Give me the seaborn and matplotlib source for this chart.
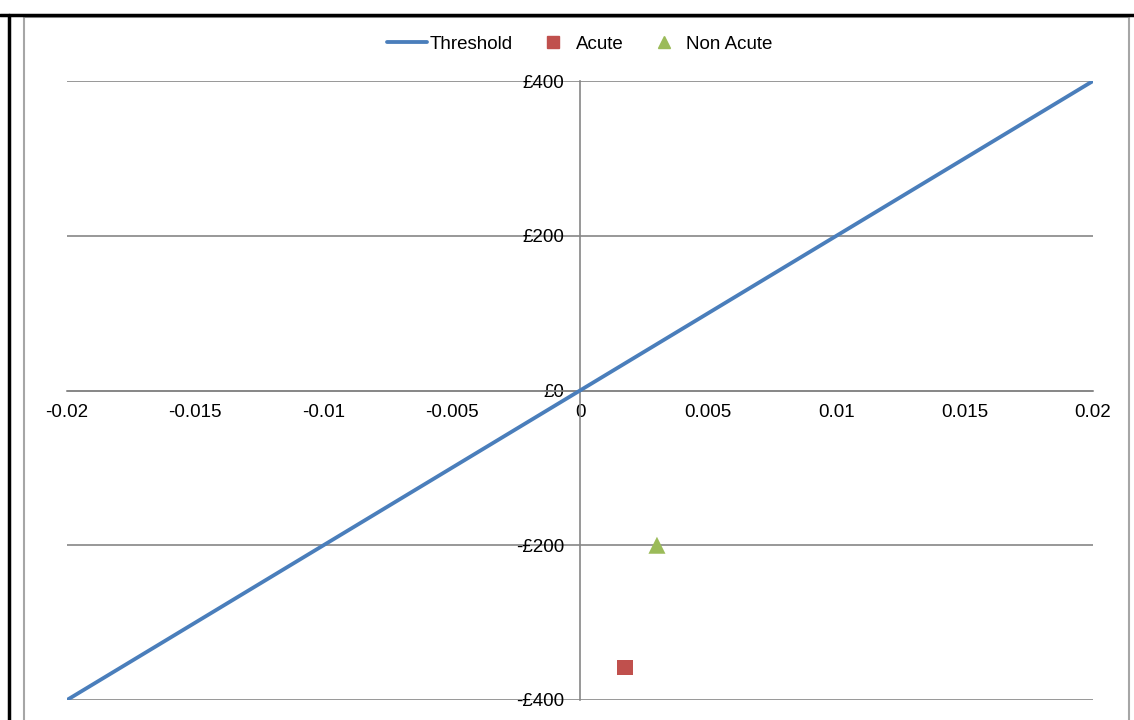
import matplotlib
matplotlib.use("Agg")
import matplotlib.pyplot as plt
import matplotlib.ticker as mticker
from matplotlib.patches import Rectangle
from matplotlib.lines import Line2D
import seaborn as sns
import pandas as pd

# Data
threshold_x = [-0.02, 0.02]
threshold_y = [-400, 400]
acute_x = [0.00175]
acute_y = [-358]
non_acute_x = [0.003]
non_acute_y = [-200]
x_ticks = [-0.02, -0.015, -0.01, -0.005, 0, 0.005, 0.01, 0.015, 0.02]
y_ticks = [-400, -200, 0, 200, 400]

sns.set_style("white")
plt.rcParams['font.family'] = ['Liberation Sans', 'DejaVu Sans']
plt.rcParams['font.size'] = 13.5

fig = plt.figure(figsize=(11.34, 7.2), dpi=100)
ax = fig.add_axes([67 / 1134, 1 - 700 / 720, (1093 - 67) / 1134, (700 - 81) / 720])

thr = pd.DataFrame({'x': threshold_x, 'y': threshold_y})
sns.lineplot(data=thr, x='x', y='y', ax=ax, color='#4A7EBB', linewidth=2.75, zorder=3)
sns.scatterplot(x=acute_x, y=acute_y, ax=ax, marker='s', s=130, color='#C0504D',
                edgecolor='none', zorder=4)
sns.scatterplot(x=non_acute_x, y=non_acute_y, ax=ax, marker='^', s=150, color='#9BBB59',
                edgecolor='none', zorder=4)

ax.set_xlim(-0.02, 0.02)
ax.set_ylim(-400, 400)
ax.set_xticks(x_ticks)
ax.set_yticks(y_ticks)
ax.xaxis.set_major_formatter(mticker.FuncFormatter(lambda v, p: f"{v:g}"))
ax.yaxis.set_major_formatter(mticker.FuncFormatter(
    lambda v, p: f"-£{abs(v):.0f}" if v < 0 else f"£{v:.0f}"))
ax.set_xlabel('')
ax.set_ylabel('')

# axes crossing at zero, Excel style
ax.spines['left'].set_position(('data', 0))
ax.spines['bottom'].set_position(('data', 0))
ax.spines['right'].set_visible(False)
ax.spines['top'].set_visible(False)
for s in ['left', 'bottom']:
    ax.spines[s].set_color('#868686')
    ax.spines[s].set_linewidth(1.2)
ax.yaxis.grid(True, color='#868686', linewidth=1.2)
ax.set_axisbelow(True)
ax.tick_params(axis='x', direction='out', length=4, width=1, color='#868686', pad=6,
               labelsize=13.5, labelcolor='black')
ax.tick_params(axis='y', direction='out', length=4, width=1, color='#868686', pad=7,
               labelsize=13.5, labelcolor='black')
for lbl in ax.get_xticklabels() + ax.get_yticklabels():
    lbl.set_zorder(5)

handles = [
    Line2D([], [], color='#4A7EBB', linewidth=2.75),
    Line2D([], [], color='#C0504D', marker='s', linestyle='none', markersize=9),
    Line2D([], [], color='#9BBB59', marker='^', linestyle='none', markersize=9),
]
fig.legend(handles, ['Threshold', 'Acute', 'Non Acute'], loc='center',
           bbox_to_anchor=(580 / 1134, 1 - 44 / 720), ncol=3, frameon=False,
           fontsize=13.5, handlelength=2.1, handletextpad=0.15, columnspacing=1.1,
           labelcolor='black')

# chart borders
fig.patches.append(Rectangle((24 / 1134, -0.1), (1129 - 24) / 1134, 1.1 - 17 / 720,
                             transform=fig.transFigure, fill=False,
                             edgecolor='#A6A6A6', linewidth=1.5))
fig.lines.append(Line2D([0, 1], [1 - 15 / 720] * 2, transform=fig.transFigure,
                        color='black', linewidth=2.5))
fig.lines.append(Line2D([9 / 1134] * 2, [0, 1 - 15 / 720], transform=fig.transFigure,
                        color='black', linewidth=2.5))

fig.savefig('out.png', dpi=100)
